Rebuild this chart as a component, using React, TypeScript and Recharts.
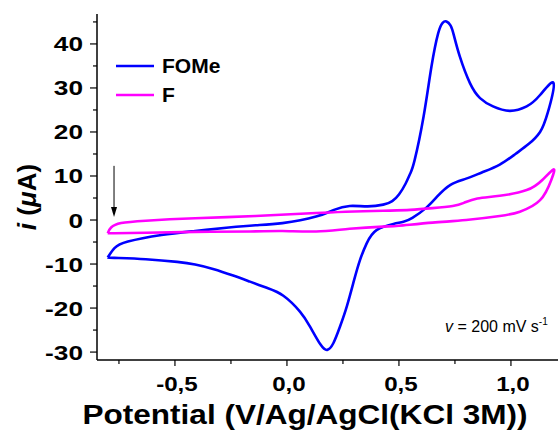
import { LineChart, Line, XAxis, YAxis, Legend, ReferenceLine, Customized } from "recharts";

// FOMe: start at -0.8 V, anodic sweep to 1.2 V, back
const fomePotential = [
  -0.8, -0.77, -0.71, -0.56, -0.41, -0.26, -0.14, -0.02, 0.13, 0.21, 0.28, 0.36, 0.43, 0.47, 0.5, 0.53,
  0.55, 0.57, 0.61, 0.645, 0.675, 0.695, 0.712, 0.73, 0.745, 0.772, 0.817, 0.862, 0.92, 0.995, 1.07, 1.13,
  1.19, 1.165, 1.13, 1.08, 1.02, 0.95, 0.87, 0.8, 0.73, 0.67, 0.62, 0.56, 0.52, 0.475, 0.4, 0.356, 0.326,
  0.3, 0.268, 0.237, 0.207, 0.18, 0.15, 0.103, 0.058, -0.016, -0.09, -0.165, -0.24, -0.33, -0.41, -0.49,
  -0.63, -0.77, -0.8,
];
const fomeCurrent = [
  -8.5, -6.4, -4.9, -3.4, -2.5, -1.7, -1.2, -0.7, 0.8, 2.3, 3.2, 3.1, 3.5, 4.3, 5.8, 8.3,
  10.5, 13.6, 23.5, 34.8, 42.4, 44.8, 45.1, 44.2, 42.0, 37.1, 31.1, 27.7, 25.8, 24.8, 25.8, 28.4,
  31.1, 24.5, 20.0, 17.3, 15.0, 12.6, 10.8, 9.4, 8.0, 5.3, 2.7, 0.5, -0.4, -0.9, -2.3, -5.3, -9.1,
  -13.6, -19.5, -24.2, -28.0, -29.5, -28.3, -24.2, -20.8, -17.2, -15.4, -14.0, -12.6, -11.1, -10.1, -9.5,
  -8.9, -8.6, -8.5,
];

const fPotential = [
  -0.8, -0.785, -0.74, -0.63, -0.41, -0.14, 0.13, 0.43, 0.55, 0.65, 0.74, 0.79, 0.85, 0.95, 1.07, 1.14,
  1.19, 1.18, 1.13, 1.04, 0.95, 0.8, 0.65, 0.5, 0.43, 0.28, 0.13, -0.02, -0.165, -0.41, -0.63, -0.77, -0.8,
];
const fCurrent = [
  -3.0, -1.7, -0.7, -0.15, 0.4, 0.9, 1.6, 2.1, 2.3, 2.7, 3.2, 3.9, 4.9, 5.5, 6.8, 9.1,
  11.5, 9.1, 4.5, 1.9, 0.9, 0.0, -0.6, -1.3, -1.5, -2.0, -2.6, -2.5, -2.6, -2.7, -2.9, -3.0, -3.0,
];

const seriesNames = ["FOMe", "F"];
const xTicks = [-0.75, -0.5, -0.25, 0, 0.25, 0.5, 0.75, 1.0];
const xLabelled = [-0.5, 0, 0.5, 1.0];
const yTicks = [-30, -25, -20, -15, -10, -5, 0, 5, 10, 15, 20, 25, 30, 35, 40, 45];
const yLabelled = [-30, -20, -10, 0, 10, 20, 30, 40];

const toPoints = (xs: number[], ys: number[]) => xs.map((x, i) => ({ x, y: ys[i] }));
const fomeData = toPoints(fomePotential, fomeCurrent);
const fData = toPoints(fPotential, fCurrent);

const FONT = "'Liberation Sans', Arial, Helvetica, sans-serif";

const BottomTick = (props: any) => {
  const { x, y, payload } = props;
  const v = payload.value;
  const major = xLabelled.includes(v);
  return (
    <g>
      <line x1={x} y1={y} x2={x} y2={y + (major ? 6 : 4)} stroke="#000" strokeWidth={1.2} />
      {major && (
        <text
          transform={`translate(${x + 2},${y + 31}) scale(1.15,1)`}
          textAnchor="middle"
          fontFamily={FONT}
          fontWeight="bold"
          fontSize={21}
          fill="#000"
        >
          {v.toFixed(1).replace(".", ",")}
        </text>
      )}
    </g>
  );
};

const TopTick = (props: any) => {
  const { x, y } = props;
  return <line x1={x} y1={y} x2={x} y2={y + 2.5} stroke="#777" strokeWidth={1} />;
};

const LeftTick = (props: any) => {
  const { x, y, payload } = props;
  const v = payload.value;
  const major = yLabelled.includes(v);
  return (
    <g>
      <line x1={x - (major ? 7 : 4)} y1={y} x2={x} y2={y} stroke="#000" strokeWidth={1.2} />
      {major && (
        <text
          transform={`translate(${x - 14},${y + 7.5}) scale(1.25,1)`}
          textAnchor="end"
          fontFamily={FONT}
          fontWeight="bold"
          fontSize={21}
          fill="#000"
        >
          {v}
        </text>
      )}
    </g>
  );
};

const Arrow = (props: any) => {
  const { x1, y1, x2, y2 } = props;
  return (
    <g>
      <line x1={x1} y1={y1} x2={x2} y2={y2 - 9} stroke="#000" strokeWidth={1} />
      <polygon points={`${x2 - 3},${y2 - 10} ${x2 + 3},${y2 - 10} ${x2},${y2}`} fill="#000" />
    </g>
  );
};

const LegendBox = ({ payload }: any) => {
  const items = [...(payload || [])].sort(
    (a: any, b: any) => seriesNames.indexOf(a.value) - seriesNames.indexOf(b.value)
  );
  return (
    <div>
      {items.map((p: any) => (
        <div key={p.value} style={{ display: "flex", alignItems: "center", height: 29 }}>
          <svg width={40} height={8}>
            <line x1={0} y1={4} x2={38} y2={4} stroke={p.color} strokeWidth={2.5} />
          </svg>
          <span style={{ fontFamily: FONT, fontWeight: "bold", fontSize: 21, marginLeft: 6, color: "#000" }}>
            {p.value}
          </span>
        </div>
      ))}
    </div>
  );
};

const Titles = () => (
  <g>
    <text
      x={305}
      y={424}
      textAnchor="middle"
      fontFamily={FONT}
      fontWeight="bold"
      fontSize={27}
      textLength={445}
      lengthAdjust="spacingAndGlyphs"
      fill="#000"
    >
      Potential (V/Ag/AgCl(KCl 3M))
    </text>
    <text
      transform="translate(36,197) rotate(-90)"
      textAnchor="middle"
      fontFamily={FONT}
      fontWeight="bold"
      fontSize={26}
      fill="#000"
    >
      <tspan fontStyle="italic">i</tspan> (<tspan fontStyle="italic">μ</tspan>A)
    </text>
    <text x={445} y={332} fontFamily={FONT} fontSize={16} fill="#000">
      <tspan fontStyle="italic">v</tspan> = 200 mV s
      <tspan fontSize={10} dy={-7}>-1</tspan>
    </text>
  </g>
);

export default function App() {
  return (
    <div
      style={{
        position: "absolute",
        left: 0,
        top: 0,
        width: 558,
        height: 434,
        overflow: "hidden",
        background: "#fff",
      }}
    >
      <LineChart width={562} height={434} margin={{ top: 14, right: 2, left: 0, bottom: 0 }}>
        <XAxis
          type="number"
          dataKey="x"
          domain={[-0.848, 1.219]}
          ticks={xTicks}
          interval={0}
          allowDataOverflow
          height={74}
          tickSize={0}
          tickMargin={0}
          tickLine={false}
          axisLine={{ stroke: "#000", strokeWidth: 1.5 }}
          tick={<BottomTick />}
        />
        <XAxis
          xAxisId="top"
          orientation="top"
          type="number"
          dataKey="x"
          domain={[-0.848, 1.219]}
          ticks={xTicks}
          interval={0}
          allowDataOverflow
          height={0}
          tickSize={0}
          tickMargin={0}
          tickLine={false}
          axisLine={{ stroke: "#000", strokeWidth: 1.5 }}
          tick={<TopTick />}
        />
        <YAxis
          type="number"
          dataKey="y"
          domain={[-31.8, 46.8]}
          ticks={yTicks}
          interval={0}
          allowDataOverflow
          width={97}
          tickSize={0}
          tickMargin={0}
          tickLine={false}
          axisLine={{ stroke: "#000", strokeWidth: 1.5 }}
          tick={<LeftTick />}
        />
        <Legend
          layout="vertical"
          align="center"
          verticalAlign="middle"
          wrapperStyle={{ left: 116, top: 51, width: 120 }}
          content={<LegendBox />}
        />
        <Line
          name="FOMe"
          data={fomeData}
          dataKey="y"
          type="natural"
          stroke="#0000ff"
          strokeWidth={2.6}
          dot={false}
          isAnimationActive={false}
        />
        <Line
          name="F"
          data={fData}
          dataKey="y"
          type="natural"
          stroke="#ff00ff"
          strokeWidth={2.6}
          dot={false}
          isAnimationActive={false}
        />
        <ReferenceLine
          segment={[
            { x: -0.772, y: 12.3 },
            { x: -0.772, y: 0.7 },
          ]}
          shape={<Arrow />}
          ifOverflow="visible"
        />
        <Customized component={<Titles />} />
      </LineChart>
    </div>
  );
}
